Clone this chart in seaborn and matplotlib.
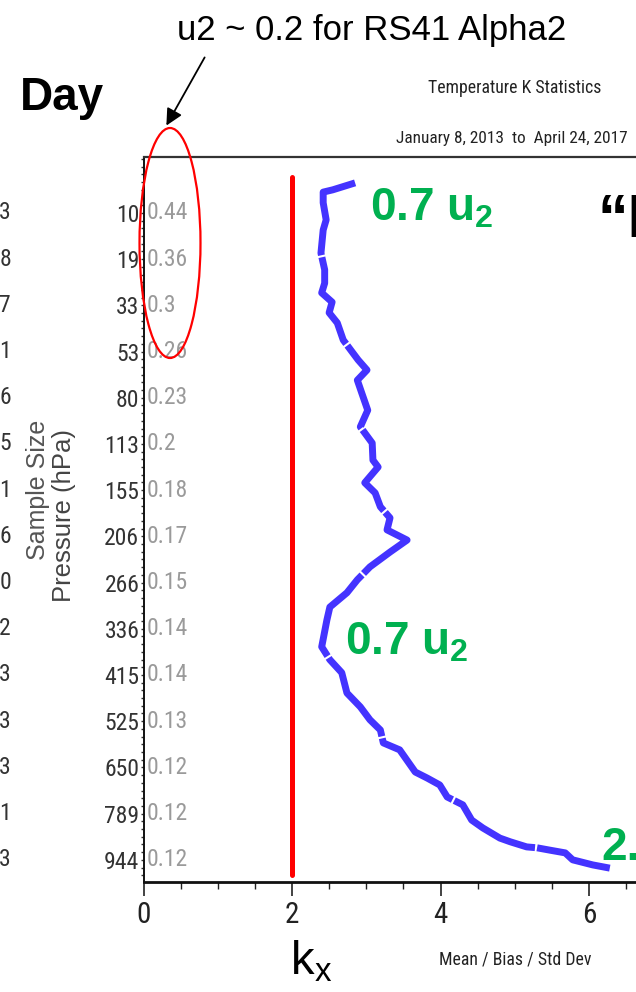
import matplotlib
matplotlib.use("Agg")
import matplotlib.pyplot as plt
import matplotlib.transforms as mtransforms
from matplotlib import font_manager
from matplotlib.patches import Ellipse, FancyArrowPatch
from matplotlib.ticker import MultipleLocator
import seaborn as sns

# %%
# values
pressure_labels = ["10", "19", "33", "53", "80", "113", "155", "206", "266",
                   "336", "415", "525", "650", "789", "944"]
u2_labels = ["0.44", "0.36", "0.3", "0.26", "0.23", "0.2", "0.18", "0.17",
             "0.15", "0.14", "0.14", "0.13", "0.12", "0.12", "0.12"]
sample_digits = ["3", "8", "7", "1", "6", "5", "1", "6", "0", "2", "3", "3",
                 "3", "1", "3"]

# blue k_x profile, level position 0 = 10 hPa ... 14 = 944 hPa
kx = [2.85, 2.55, 2.42, 2.42, 2.46, 2.42, 2.39, 2.44, 2.44, 2.40, 2.54, 2.50,
      2.61, 2.69, 2.82, 2.89, 3.01, 2.88, 2.94, 3.02, 2.92, 3.08, 3.09, 3.16,
      2.98, 3.12, 3.19, 3.32, 3.28, 3.55, 3.32, 3.05, 2.88, 2.74, 2.51, 2.47,
      2.40, 2.51, 2.67, 2.74, 2.92, 3.05, 3.19, 3.23, 3.45, 3.66, 3.82, 3.99,
      4.09, 4.30, 4.42, 4.57, 4.80, 4.94, 5.16, 5.30, 5.47, 5.68, 5.78, 6.05,
      6.28]
level = [-0.65, -0.50, -0.45, -0.22, 0.15, 0.37, 0.87, 1.23, 1.52, 1.73, 1.93,
         2.16, 2.38, 2.75, 3.03, 3.18, 3.40, 3.62, 3.90, 4.27, 4.63, 4.98,
         5.35, 5.50, 5.84, 6.06, 6.36, 6.60, 6.86, 7.08, 7.34, 7.66, 7.94,
         8.22, 8.53, 8.81, 9.39, 9.67, 9.95, 10.39, 10.69, 10.97, 11.19,
         11.47, 11.62, 12.10, 12.23, 12.38, 12.64, 12.81, 13.14, 13.31, 13.53,
         13.61, 13.72, 13.74, 13.79, 13.85, 14.00, 14.11, 14.18]
kx_ref = 2

# %%
sns.set_style("ticks")
plt.rcParams['font.family'] = ['Liberation Sans', 'DejaVu Sans']
plt.rcParams['mathtext.fontset'] = 'custom'
plt.rcParams['mathtext.rm'] = 'Liberation Sans'
plt.rcParams['mathtext.bf'] = 'Liberation Sans:bold'
GREEN = '#00B050'

# the chart software used a condensed face; take one if there is any
narrow_name, narrow_stretch = None, 'normal'
preferred = ['Liberation Sans Narrow', 'Roboto Condensed', 'DejaVu Sans Condensed',
             'Noto Sans Condensed', 'Open Sans Condensed']
names = {f.name for f in font_manager.fontManager.ttflist}
for n in preferred:
    if n in names:
        narrow_name = n
        break
if narrow_name is None:
    for f in font_manager.fontManager.ttflist:
        if f.stretch in ('condensed', 'extra-condensed', 'semi-condensed') \
                and f.style == 'normal' and f.weight in (400, 'normal', 'regular'):
            narrow_name, narrow_stretch = f.name, f.stretch
            break
if narrow_name is None:
    NARROW = ['Liberation Sans', 'DejaVu Sans']
    shrink = 0.78
else:
    NARROW = [narrow_name, 'Liberation Sans', 'DejaVu Sans']
    shrink = 1.0
NKW = dict(family=NARROW, stretch=narrow_stretch)

W, H = 636, 992


def fx(x):
    return x / W


def fy(y):
    return 1 - y / H


fig = plt.figure(figsize=(6.36, 9.92), dpi=100)
ax = fig.add_axes([fx(143.5), fy(882), 1 - fx(143.5), (882 - 157) / H])

sns.lineplot(x=kx, y=level, sort=False, estimator=None, color='#4433FF',
             lw=5, linestyle=(0, (14, 0.3)), ax=ax)
ax.axvline(kx_ref, ymin=0.01, ymax=0.972, color='#FF0000', lw=3.6)

ax.set_xlim(0, (636 - 143.5) / 74.25)
ax.set_ylim(14.48, -1.21)
ax.set_xticks([0, 2, 4, 6])
ax.xaxis.set_minor_locator(MultipleLocator(0.5))
ax.set_yticks(range(len(pressure_labels)), labels=pressure_labels)
ax.yaxis.set_minor_locator(MultipleLocator(1 / 6))

ax.tick_params(axis='x', which='major', length=10, width=1.2, pad=4,
               labelsize=21 * shrink, colors='#222222')
ax.tick_params(axis='x', which='minor', length=5, width=1.0, color='#222222')
ax.tick_params(axis='y', which='both', length=2, width=1.0, pad=1,
               labelsize=17 * shrink, colors='#333333')
for lab in ax.get_xticklabels() + ax.get_yticklabels():
    lab.set_fontfamily(NARROW)
    lab.set_fontstretch(narrow_stretch)

ax.spines['right'].set_visible(False)
ax.spines['top'].set_color('#333333')
ax.spines['top'].set_linewidth(1.6)
ax.spines['left'].set_color('#111111')
ax.spines['left'].set_linewidth(1.4)
ax.spines['bottom'].set_color('#111111')
ax.spines['bottom'].set_linewidth(2)
ax.set_xlabel('')
ax.set_ylabel('')

# u2 values just inside the left spine
for i, lab in enumerate(u2_labels):
    ax.text(0.04, i, lab, ha='left', va='center', fontsize=17 * shrink,
            color='#9a9a9a', **NKW)

# cut-off sample size column at the left edge
blend = mtransforms.blended_transform_factory(fig.transFigure, ax.transData)
for i, d in enumerate(sample_digits):
    fig.text(fx(11), i, d, transform=blend, ha='right', va='center',
             fontsize=17 * shrink, color='#333333', **NKW)

fig.text(fx(38), fy(490), 'Sample Size', rotation=90, ha='center',
         va='center', fontsize=18, color='#555555')
fig.text(fx(64), fy(515), 'Pressure (hPa)', rotation=90, ha='center',
         va='center', fontsize=18.5, color='#444444')

# header texts
fig.text(fx(372), fy(40), 'u2 ~ 0.2 for RS41 Alpha2', ha='center',
         va='baseline', fontsize=25, color='black')
fig.text(fx(20), fy(110), 'Day', ha='left', va='baseline', fontsize=33,
         fontweight='bold', color='black')
fig.text(fx(515), fy(93), 'Temperature K Statistics', ha='center',
         va='baseline', fontsize=12.8 * shrink, color='#222222', **NKW)
fig.text(fx(512), fy(143), 'January 8, 2013  to  April 24, 2017',
         ha='center', va='baseline', fontsize=12.4 * shrink, color='#222222',
         **NKW)

# footer texts
fig.text(fx(515), fy(965), 'Mean / Bias / Std Dev', ha='center',
         va='baseline', fontsize=12.8 * shrink, color='#222222', **NKW)
fig.text(fx(290), fy(975), r'k$_\mathrm{x}$', ha='left', va='baseline',
         fontsize=34, color='black')

# green annotations
fig.text(fx(370), fy(221), r'0.7 u$_\mathbf{2}$', ha='left', va='baseline',
         fontsize=33, fontweight='bold', color=GREEN)
fig.text(fx(345), fy(655), r'0.7 u$_\mathbf{2}$', ha='left', va='baseline',
         fontsize=33, fontweight='bold', color=GREEN)
fig.text(fx(601), fy(860), '2.', ha='left', va='baseline', fontsize=33,
         fontweight='bold', color=GREEN)
fig.text(fx(597), fy(237), '\u201cI', ha='left', va='baseline', fontsize=44,
         fontweight='bold', color='black')

# red circle and arrow
fig.add_artist(Ellipse((fx(170), fy(243)), 61 / W, 230 / H,
                       transform=fig.transFigure, fill=False,
                       edgecolor='#FF0000', lw=1.6, zorder=10))
fig.add_artist(FancyArrowPatch((fx(206), fy(55)), (fx(165), fy(128)),
                               transform=fig.transFigure,
                               arrowstyle='-|>,head_length=10,head_width=5',
                               color='black', lw=1.3, zorder=10))

fig.savefig('out.png', dpi=100)
